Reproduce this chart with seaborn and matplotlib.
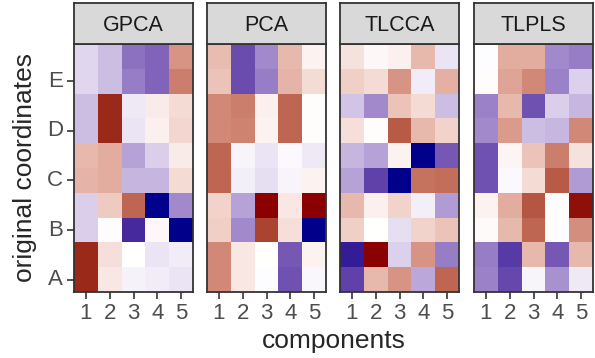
import numpy as np
import pandas as pd
import matplotlib
matplotlib.use("Agg")
import matplotlib.pyplot as plt
import seaborn as sns
from matplotlib.colors import ListedColormap, to_rgb

methods = ["GPCA", "PCA", "TLCCA", "TLPLS"]
components = [1, 2, 3, 4, 5]
coord_labels = ["A", "B", "C", "D", "E"]

# loadings, rows listed bottom (1) to top (10), columns = components 1..5
gpca = [
    [0.90, 0.10, -0.05, -0.07, -0.10],
    [0.90, 0.13, 0.00, -0.10, -0.07],
    [-0.18, -0.01, -0.85, 0.03, -1.00],
    [-0.18, 0.22, 0.65, -1.00, -0.45],
    [0.32, 0.35, -0.28, -0.28, 0.15],
    [0.30, 0.35, -0.35, -0.18, 0.08],
    [-0.25, 0.90, -0.10, 0.06, 0.17],
    [-0.25, 0.90, -0.08, 0.08, 0.15],
    [-0.15, -0.25, -0.50, -0.60, 0.55],
    [-0.15, -0.25, -0.55, -0.60, 0.45],
]
pca = [
    [0.50, 0.10, -0.01, -0.68, -0.03],
    [0.50, 0.10, 0.00, -0.65, 0.05],
    [0.20, -0.45, 0.80, 0.13, -1.00],
    [0.18, -0.35, 1.00, 0.10, 1.00],
    [0.65, -0.06, -0.12, -0.04, 0.05],
    [0.65, -0.04, -0.10, -0.02, -0.08],
    [0.50, 0.53, 0.05, 0.65, 0.01],
    [0.50, 0.55, 0.06, 0.65, 0.01],
    [0.25, -0.70, -0.50, 0.32, 0.15],
    [0.28, -0.70, -0.45, 0.30, 0.05],
]
tlcca = [
    [-0.75, 0.30, 0.45, -0.33, 0.65],
    [-0.90, 1.00, -0.17, 0.45, -0.50],
    [0.20, 0.00, -0.12, 0.18, 0.25],
    [0.30, 0.06, 0.18, -0.06, -0.38],
    [-0.35, -0.75, -1.00, 0.60, 0.62],
    [-0.28, -0.35, 0.05, -1.00, -0.65],
    [0.13, 0.01, 0.70, 0.30, 0.18],
    [-0.22, -0.45, 0.25, 0.15, -0.25],
    [0.20, 0.15, 0.45, -0.07, 0.33],
    [0.12, 0.03, 0.06, 0.30, -0.10],
]
tlpls = [
    [-0.48, -0.72, -0.04, -0.42, -0.08],
    [-0.50, -0.78, 0.30, -0.65, 0.30],
    [0.02, 0.30, 0.65, -0.01, 0.48],
    [0.05, 0.35, 0.72, -0.01, 0.97],
    [-0.68, -0.02, 0.15, 0.70, -0.38],
    [-0.68, 0.04, 0.25, 0.55, 0.12],
    [-0.45, 0.42, -0.25, -0.27, 0.50],
    [-0.48, 0.30, -0.68, -0.18, -0.27],
    [0.01, 0.38, 0.50, -0.48, -0.17],
    [-0.01, 0.35, 0.35, -0.45, -0.50],
]
loadings = [gpca, pca, tlcca, tlpls]


# ggplot-like gradient2 (darkblue - white - darkred), interpolated in Lab
def srgb_to_lab(c):
    c = np.asarray(c, float)
    lin = np.where(c <= 0.04045, c / 12.92, ((c + 0.055) / 1.055) ** 2.4)
    m = np.array([[0.4124, 0.3576, 0.1805],
                  [0.2126, 0.7152, 0.0722],
                  [0.0193, 0.1192, 0.9505]])
    xyz = m @ lin / np.array([0.95047, 1.0, 1.08883])
    f = np.where(xyz > 0.008856, np.cbrt(xyz), 7.787 * xyz + 16 / 116)
    return np.array([116 * f[1] - 16, 500 * (f[0] - f[1]), 200 * (f[1] - f[2])])


def lab_to_srgb(lab):
    L, a, b = lab
    fy = (L + 16) / 116
    fx = fy + a / 500
    fz = fy - b / 200
    f = np.array([fx, fy, fz])
    xyz = np.where(f ** 3 > 0.008856, f ** 3, (f - 16 / 116) / 7.787)
    xyz = xyz * np.array([0.95047, 1.0, 1.08883])
    m = np.array([[3.2406, -1.5372, -0.4986],
                  [-0.9689, 1.8758, 0.0415],
                  [0.0557, -0.2040, 1.0570]])
    lin = m @ xyz
    c = np.where(lin <= 0.0031308, 12.92 * lin, 1.055 * np.clip(lin, 0, None) ** (1 / 2.4) - 0.055)
    return np.clip(c, 0, 1)


low, mid, high = [srgb_to_lab(to_rgb(c)) for c in ("darkblue", "white", "darkred")]
cols = []
for t in np.linspace(-1, 1, 512):
    if t < 0:
        lab = mid + (low - mid) * (-t)
    else:
        lab = mid + (high - mid) * t
    cols.append(lab_to_srgb(lab))
cmap = ListedColormap(cols)

sns.set_style("white")
plt.rcParams["font.family"] = ["Liberation Sans", "DejaVu Sans"]

W, H = 595, 358
fig = plt.figure(figsize=(W / 100, H / 100), dpi=100)

panel_left = [74, 207, 340, 474]
panel_w = 119
panel_top, panel_bottom = 44, 292
strip_top = 3

for i, (name, data) in enumerate(zip(methods, loadings)):
    x0 = panel_left[i]
    ax = fig.add_axes([x0 / W, (H - panel_bottom) / H, panel_w / W,
                       (panel_bottom - panel_top) / H])
    df = pd.DataFrame(data, columns=components, index=range(1, 11))
    sns.heatmap(df, ax=ax, cmap=cmap, vmin=-1, vmax=1, cbar=False,
                linewidths=0)
    ax.set_ylim(0, 10)
    ax.set_xticks(np.arange(len(components)) + 0.5)
    ax.set_xticklabels(components, rotation=0)
    if i == 0:
        ax.set_yticks([0.5, 2.5, 4.5, 6.5, 8.5])
        ax.set_yticklabels(coord_labels, rotation=0)
    else:
        ax.set_yticks([])
    ax.set_xlabel("")
    ax.set_ylabel("")
    ax.tick_params(axis="both", length=5, width=1.2, color="#333333",
                   labelsize=16, labelcolor="#4d4d4d", pad=3,
                   left=(i == 0), bottom=True)
    for sp in ax.spines.values():
        sp.set_visible(True)
        sp.set_color("#333333")
        sp.set_linewidth(1.3)

    # facet strip
    sax = fig.add_axes([x0 / W, (H - panel_top) / H, panel_w / W,
                        (panel_top - strip_top) / H])
    sax.set_facecolor("#d9d9d9")
    sax.set_xticks([])
    sax.set_yticks([])
    for sp in sax.spines.values():
        sp.set_color("#333333")
        sp.set_linewidth(1.3)
    sax.text(0.5, 0.46, name, ha="center", va="center", fontsize=15.5,
             color="#1a1a1a", transform=sax.transAxes)

fig.text((74 + 593) / 2 / W, 1 - 341 / H, "components", ha="center",
         va="center", fontsize=19)
fig.text(25 / W, 1 - 168 / H, "original coordinates", ha="center",
         va="center", rotation=90, fontsize=19)

fig.savefig("out.png", dpi=100)
